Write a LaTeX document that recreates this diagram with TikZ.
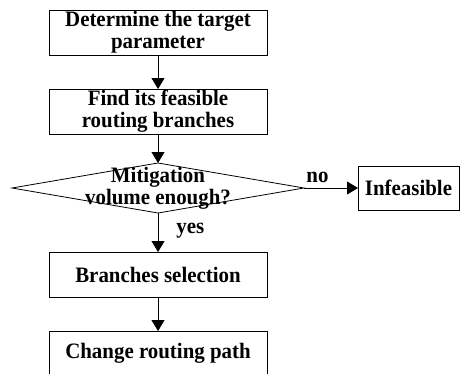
\documentclass[tikz,border=0pt]{standalone}
\usepackage{fontspec}
\setmainfont{Liberation Serif}[FakeStretch=0.95]
\usetikzlibrary{shapes.geometric,arrows.meta}
\begin{document}
\begin{tikzpicture}[x=1pt,y=-1pt,
  every node/.style={font=\fontsize{22}{22}\selectfont\bfseries, align=center},
  procbox/.style={draw, line width=0.8pt, minimum width=218pt, minimum height=45pt, inner sep=0pt, outer sep=0pt},
  conn/.style={line width=0.8pt, -{Triangle[length=11pt,width=13pt]}},
  lbl/.style={inner sep=0pt}]
\useasboundingbox (0,0) rectangle (460,373);
\clip (0,0) rectangle (460,373);
\node[procbox] (b1) at (158,32.5) {Determine the target\\parameter};
\node[procbox] (b2) at (158,111.5) {Find its feasible\\routing branches};
\node[draw, diamond, line width=0.8pt, minimum width=292pt, minimum height=50pt, inner sep=0pt, outer sep=0pt] (dec) at (158,188) {};
\node[lbl] (dect) at (158,188) {Mitigation\\volume enough?};
\node[draw, line width=0.8pt, minimum width=101pt, minimum height=44pt, inner sep=0pt, outer sep=0pt] (inf) at (408.5,188) {Infeasible};
\node[procbox] (b3) at (158,274.5) {Branches selection};
\node[procbox] (b4) at (158,353.5) {Change routing path};
\draw[conn] (b1) -- (b2);
\draw[conn] (b2) -- (dec);
\draw[conn] (dec.east) -- (inf.west) node[lbl, pos=0.25, above=5pt] (no) {no};
\draw[conn] (dec.south) -- (b3.north) node[lbl, pos=0.45, right=18pt] (yes) {yes};
\draw[conn] (b3) -- (b4);
\end{tikzpicture}
\end{document}
